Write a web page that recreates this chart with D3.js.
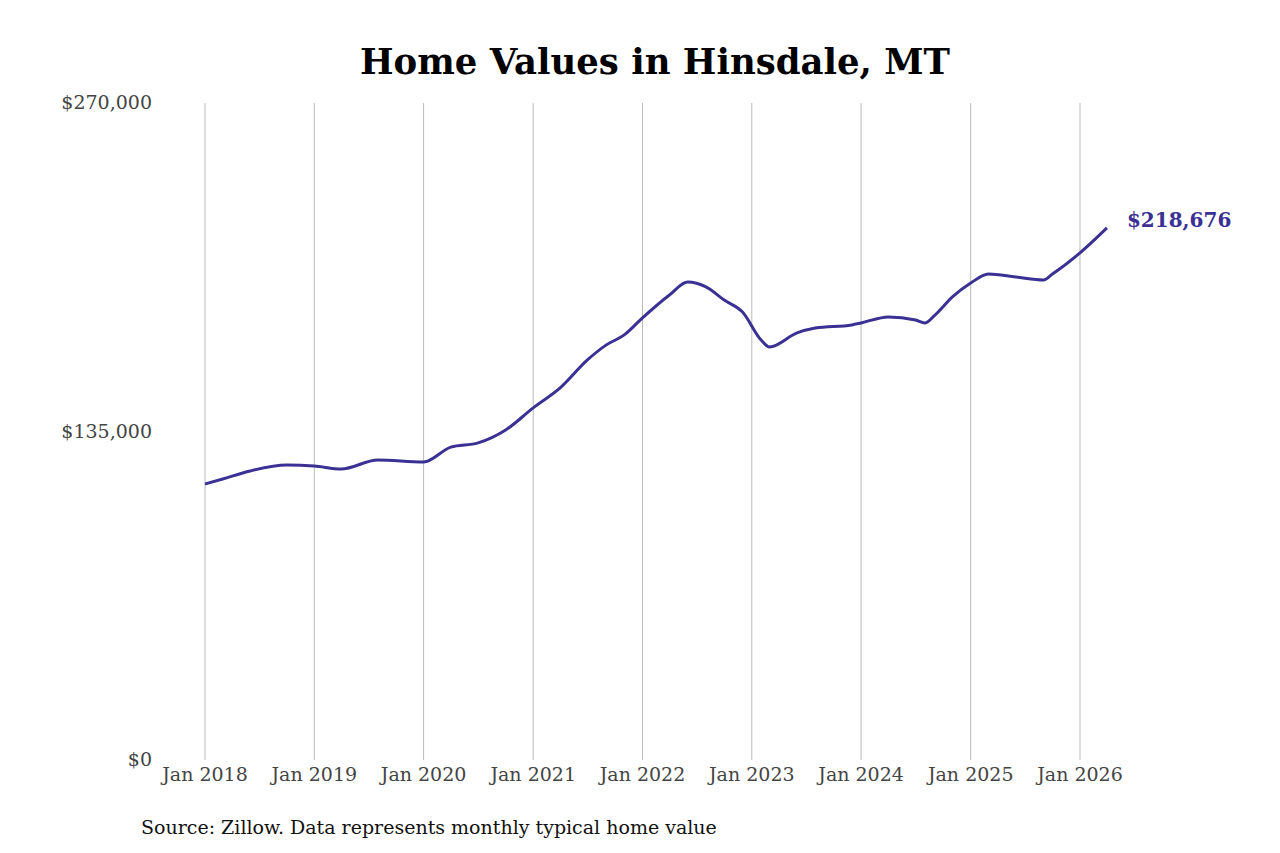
<!DOCTYPE html>
<html><head><meta charset="utf-8">
<script src="https://cdn.jsdelivr.net/npm/d3@7"></script>
<style>body{margin:0;background:#fff}svg{font-family:"DejaVu Serif",serif}</style>
</head><body><svg width="1280" height="853"></svg>
<script>
const dates=["2018-01","2018-03","2018-06","2018-10","2019-01","2019-04","2019-08","2020-01","2020-04","2020-07","2020-10","2021-01","2021-04","2021-07","2021-09","2021-11","2022-01","2022-04","2022-06","2022-08","2022-10","2022-12","2023-02","2023-03","2023-06","2023-08","2023-12","2024-01","2024-04","2024-07","2024-08","2024-09","2024-11","2025-01","2025-03","2025-06","2025-09","2025-10","2026-01","2026-04"];
const values=[113400,115500,118800,121200,120800,119600,123300,122500,128600,130300,135600,144700,152900,164400,170500,174700,181700,191100,196400,194400,189000,184100,172600,169700,175500,177500,178800,179600,182100,180800,179600,182500,190300,196000,199700,198500,197300,199700,208400,218676];
const yTicks=[0,135000,270000];
const xTickYears=[2018,2019,2020,2021,2022,2023,2024,2025,2026];
const parse=d3.timeParse("%Y-%m");
const data=dates.map((d,i)=>({d:parse(d),v:values[i]}));
const svg=d3.select("svg");
const x=d3.scaleTime().domain([new Date(2018,0,1),new Date(2026,0,1)]).range([205,1080]);
const y=d3.scaleLinear().domain([0,270000]).range([760,103]);
svg.append("text").attr("x",655).attr("y",74).attr("text-anchor","middle").attr("font-size",35.5).attr("font-weight","bold").text("Home Values in Hinsdale, MT");
xTickYears.forEach(yr=>{const xx=x(new Date(yr,0,1));
 svg.append("line").attr("x1",xx).attr("x2",xx).attr("y1",103).attr("y2",760).attr("stroke","#bbb");
 svg.append("text").attr("x",xx).attr("y",781).attr("text-anchor","middle").attr("font-size",19).attr("fill","#444").text("Jan "+yr);});
yTicks.forEach(t=>svg.append("text").attr("x",152).attr("y",y(t)+6).attr("text-anchor","end").attr("font-size",19).attr("fill","#444").text("$"+d3.format(",")(t)));
svg.append("path").datum(data).attr("fill","none").attr("stroke","#3b3194").attr("stroke-width",3)
 .attr("d",d3.line().x(d=>x(d.d)).y(d=>y(d.v)).curve(d3.curveMonotoneX));
const last=data[data.length-1];
svg.append("text").attr("x",x(last.d)+20).attr("y",y(last.v)-1).attr("font-size",20).attr("font-weight","bold").attr("fill","#3b3194").text("$"+d3.format(",")(last.v));
svg.append("text").attr("x",141).attr("y",834).attr("font-size",19).attr("fill","#111").text("Source: Zillow. Data represents monthly typical home value");
</script></body></html>
